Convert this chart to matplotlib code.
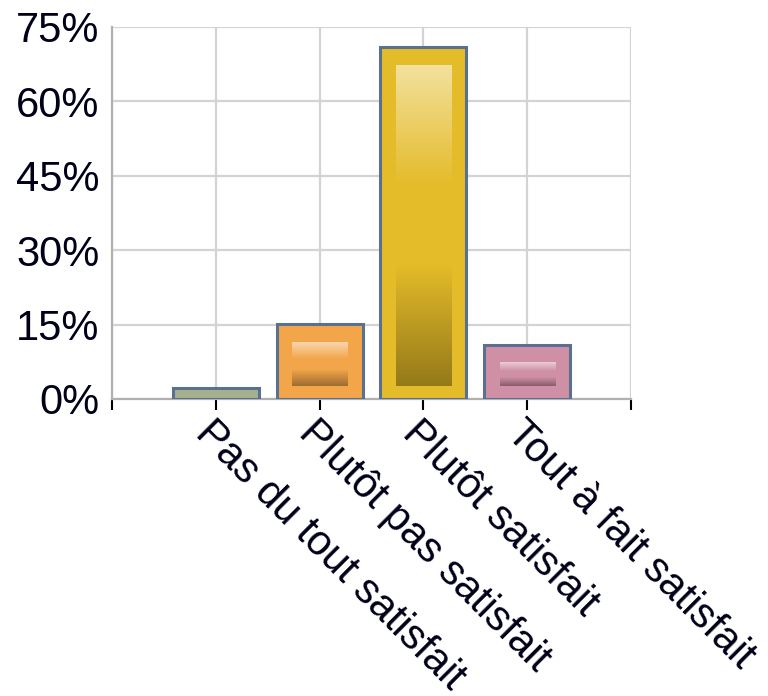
import numpy as np
import matplotlib
matplotlib.use("Agg")
from matplotlib import pyplot as plt

# data
categories = ["Pas du tout satisfait", "Plutôt pas satisfait",
              "Plutôt satisfait", "Tout à fait satisfait"]
values = [2.3, 15.1, 70.9, 10.9]
bar_colors = ["#a5b08f", "#f2a649", "#e4bb28", "#cf8fa5"]
y_ticks = [0, 15, 30, 45, 60, 75]

plt.rcParams['font.family'] = ['Liberation Sans', 'DejaVu Sans']

fig = plt.figure(figsize=(7.68, 6.96), dpi=100)
ax = fig.add_axes([112 / 768, 1 - 399 / 696, (631 - 112) / 768, (399 - 27) / 696])

x = np.arange(1, len(categories) + 1)
width = 0.83
bars = ax.bar(x, values, width=width, color=bar_colors,
              edgecolor="#5a7090", linewidth=2.2, zorder=3)

# glossy inner gradient, placed from each bar's own geometry
px_per_unit_y = (399 - 27) / 75.0
for rect in bars:
    h = rect.get_height()
    if h < 5:
        continue
    cx = rect.get_x() + rect.get_width() / 2
    iw = rect.get_width() * 0.64
    top = h - 18 / px_per_unit_y
    bot = 13 / px_per_unit_y
    n = 200
    t = np.linspace(0, 1, n)[:, None]  # 0 = top, 1 = bottom
    img = np.zeros((n, 1, 4))
    light = np.clip(1 - t / 0.38, 0, 1)
    dark = np.clip((t - 0.62) / 0.38, 0, 1)
    img[..., 0:3] = np.where(light > 0, 1.0, 0.0)[..., None]
    img[..., 3] = light * 0.55 + dark * 0.35
    ax.imshow(img, extent=(cx - iw / 2, cx + iw / 2, bot, top),
              aspect="auto", interpolation="bilinear", zorder=4)

ax.set_xlim(0, 5)
ax.set_ylim(0, 75)

ax.set_yticks(y_ticks)
ax.set_yticklabels([f"{v}%" for v in y_ticks], fontsize=30, color="#000018")
ax.tick_params(axis="y", length=0, pad=9)

ax.set_xticks(range(0, 6))
ax.set_xticklabels([""] + categories + [""], fontsize=30, color="#000018",
                   rotation=-45, ha="left", va="top", rotation_mode="anchor")
ax.tick_params(axis="x", length=8, width=1.5, color="black", pad=2)

ax.grid(True, color="#d3d3d3", linewidth=1.6, zorder=0)
ax.set_axisbelow(True)
for side in ["top", "right"]:
    ax.spines[side].set_visible(False)
for side in ["left", "bottom"]:
    ax.spines[side].set_color("#b0b0b0")
    ax.spines[side].set_linewidth(1.6)
ax.spines["bottom"].set_zorder(2)

fig.savefig("out.png", dpi=100)
